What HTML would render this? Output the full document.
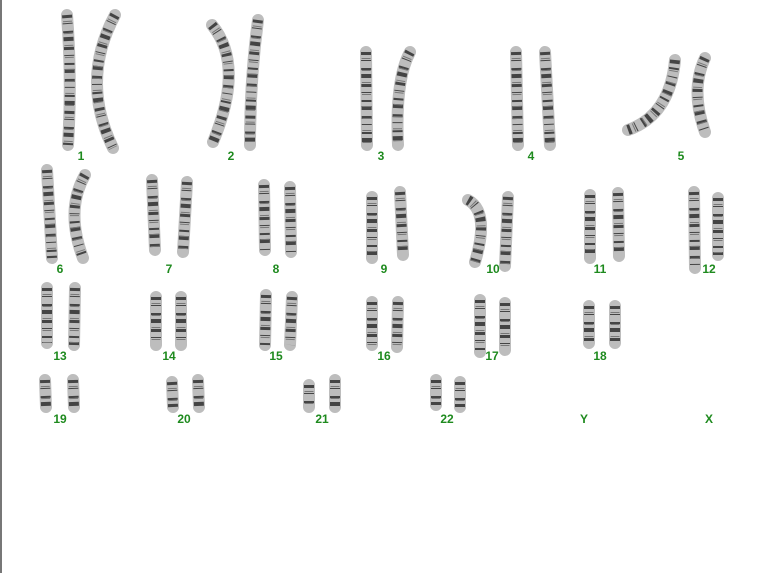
<!DOCTYPE html>
<html><head><style>
html,body{margin:0;padding:0;background:#fff;}
body{width:761px;height:573px;overflow:hidden;position:relative;}
svg{position:absolute;left:0;top:0;}
text{font-family:"Liberation Sans",sans-serif;font-weight:bold;font-size:12px;fill:#1e8a1e;text-anchor:middle;}
</style></head><body>
<svg width="761" height="573" viewBox="0 0 761 573">
<rect x="0" y="0" width="2" height="573" fill="#777"/>
<defs>
<g id="chr" fill="none">
<path d="M67,15 Q72,80 68,145"/><path d="M115,15 Q80,80 113,148"/>
<path d="M212,25 Q245,65 213,142"/><path d="M258,20 Q250,80 250,145"/>
<path d="M366,52 L367,145"/><path d="M410,52 Q395,80 398,145"/>
<path d="M516,52 L518,145"/><path d="M545,52 L550,145"/>
<path d="M628,130 Q670,115 675,60"/><path d="M705,58 Q690,90 705,132"/>
<path d="M47,170 L52,258"/><path d="M85,175 Q65,210 83,258"/>
<path d="M152,180 L155,250"/><path d="M187,182 L183,252"/>
<path d="M264,185 L265,250"/><path d="M290,187 L291,252"/>
<path d="M372,197 L372,258"/><path d="M400,192 L403,255"/>
<path d="M468,200 Q490,212 475,262"/><path d="M508,197 L505,266"/>
<path d="M590,195 L590,258"/><path d="M618,193 L619,256"/>
<path d="M694,192 L695,268"/><path d="M718,198 L718,255"/>
<path d="M47,288 L47,343"/><path d="M75,288 L74,345"/>
<path d="M156,297 L156,345"/><path d="M181,297 L181,345"/>
<path d="M266,295 L265,345"/><path d="M292,297 L290,345"/>
<path d="M372,302 L372,345"/><path d="M398,302 L397,347"/>
<path d="M480,300 L480,352"/><path d="M505,303 L505,350"/>
<path d="M589,306 L589,343"/><path d="M615,306 L615,343"/>
<path d="M45,380 L46,407"/><path d="M73,380 L74,407"/>
<path d="M172,382 L173,407"/><path d="M198,380 L199,407"/>
<path d="M309,385 L309,407"/><path d="M335,380 L335,407"/>
<path d="M436,380 L436,405"/><path d="M460,382 L460,407"/>
</g>
</defs>
<use href="#chr" stroke="#bdbdbd" stroke-width="12" stroke-linecap="round" stroke-linejoin="round"/>
<use href="#chr" stroke="#444" stroke-width="10" stroke-dasharray="3 5 1 7 2 4 4 6" stroke-linecap="butt"/>
<use href="#chr" stroke="#777" stroke-width="9" stroke-dasharray="1 11" stroke-dashoffset="6" stroke-linecap="butt"/>
<g>
<text x="81" y="160">1</text><text x="231" y="160">2</text><text x="381" y="160">3</text><text x="531" y="160">4</text><text x="681" y="160">5</text>
<text x="60" y="273">6</text><text x="169" y="273">7</text><text x="276" y="273">8</text><text x="384" y="273">9</text><text x="493" y="273">10</text><text x="600" y="273">11</text><text x="709" y="273">12</text>
<text x="60" y="360">13</text><text x="169" y="360">14</text><text x="276" y="360">15</text><text x="384" y="360">16</text><text x="492" y="360">17</text><text x="600" y="360">18</text>
<text x="60" y="423">19</text><text x="184" y="423">20</text><text x="322" y="423">21</text><text x="447" y="423">22</text><text x="584" y="423">Y</text><text x="709" y="423">X</text>
</g>
</svg>
</body></html>
